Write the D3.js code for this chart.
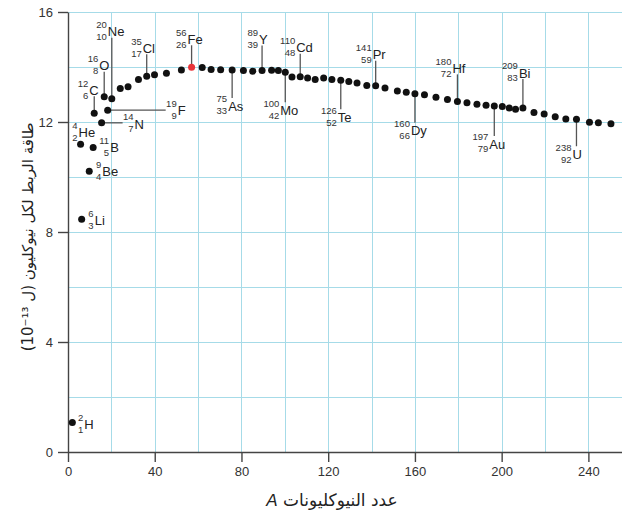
<!DOCTYPE html>
<html><head><meta charset="utf-8">
<script src="https://cdn.jsdelivr.net/npm/d3@7/dist/d3.min.js"></script>
<style>body{margin:0;background:#fff}</style>
</head><body>
<svg id="chart" width="622" height="516"></svg>
<script>
// ---- data ----
const massNumbers = [2.0,5.8,6.3,9.8,11.6,12.1,15.5,16.7,18.3,20.2,24.1,27.7,32.5,36.3,39.9,45.4,52.3,57.0,61.9,66.0,70.4,75.7,80.9,85.2,89.5,93.9,97.0,100.2,103.3,107.1,110.5,114.0,117.9,121.7,125.8,129.5,133.3,137.8,141.9,146.2,151.9,156.0,160.0,164.4,169.7,175.0,179.6,184.0,188.6,192.8,196.6,200.3,203.5,206.4,209.8,214.9,219.6,224.7,229.6,234.5,240.5,244.6,250.4];
const bindingEnergies = [1.07,11.19,8.46,10.21,11.07,12.32,11.97,12.92,12.43,12.85,13.22,13.28,13.55,13.66,13.72,13.77,13.89,13.99,13.98,13.91,13.90,13.89,13.87,13.85,13.87,13.88,13.87,13.81,13.64,13.65,13.60,13.55,13.60,13.55,13.52,13.47,13.42,13.33,13.32,13.24,13.13,13.08,13.03,12.99,12.90,12.82,12.75,12.70,12.65,12.61,12.58,12.56,12.51,12.46,12.51,12.35,12.29,12.19,12.11,12.10,11.99,11.97,11.94];
const highlightPoint = 17;

const nuclideSymbols = ["H","He","Li","Be","B","C","N","O","F","Ne","Cl","Fe","As","Y","Mo","Cd","Te","Pr","Dy","Hf","Au","Bi","U"];
const nuclideMass    = [2,4,6,9,11,12,14,16,19,20,35,56,75,89,100,110,126,141,160,180,197,209,238];
const nuclideZ       = [1,2,3,4,5,6,7,8,9,10,17,26,33,39,42,48,52,59,66,72,79,83,92];
const nuclidePoint   = [0,1,2,3,4,5,6,7,8,9,13,17,21,24,27,29,34,38,42,46,50,54,59];

const xTicks = [0,40,80,120,160,200,240];
const yTicks = [0,4,8,12,16];
const xGrid = [20,40,60,80,100,120,140,160,180,200,220,240];
const yGrid = [2,4,6,8,10,12,14,16];
const xTitle = "عدد النيوكليونات ";
const xTitleVar = "A";
const yTitle = "طاقة الربط لكل نيوكليون (ل \u202A10⁻¹³\u202C)";

// ---- label layout (pixel offsets of symbol from its point) ----
const labelLayout = [
  [12,2,"none"],[-2,-12,"none"],[13,1,"none"],[13,0,"none"],[17,0,"none"],
  [-5,-23,"up"],[33,1,"right"],[-5,-31,"up"],[70,0,"right"],[-4,-67,"up"],
  [-4,-28,"up"],[-4,-28,"up"],[-4,36,"down"],[-3,-31,"up"],[-5,38,"down"],
  [-4,-29,"up"],[-3,37,"down"],[-3,-31,"up"],[-4,37,"down"],[-5,-33,"up"],
  [-5,38,"down"],[-4,-35,"up"],[-4,35,"down"]
];

const svg = d3.select("#chart");
const x = d3.scaleLinear().domain([0,255.5]).range([68,622]);
const y = d3.scaleLinear().domain([0,16]).range([452,12]);
const gridColor = "#a6dbe8";
const axisColor = "#444";
const font = "'Liberation Sans', Arial, sans-serif";
const snap = v => Math.round(v) + 0.5;

// grid
svg.append("g").selectAll("line").data(xGrid).join("line")
  .attr("x1",d=>snap(x(d))).attr("x2",d=>snap(x(d))).attr("y1",y(0)).attr("y2",y(16))
  .attr("stroke",gridColor).attr("stroke-width",1);
svg.append("g").selectAll("line").data(yGrid).join("line")
  .attr("x1",x(0)).attr("x2",622).attr("y1",d=>snap(y(d))).attr("y2",d=>snap(y(d)))
  .attr("stroke",gridColor).attr("stroke-width",1);

// axes
const xAxis = svg.append("g").attr("transform",`translate(0,${y(0)})`)
  .call(d3.axisBottom(x).tickValues(xTicks).tickSize(10).tickSizeOuter(0).tickPadding(5));
const yAxis = svg.append("g").attr("transform",`translate(${x(0)},0)`)
  .call(d3.axisLeft(y).tickValues(yTicks).tickSize(10).tickSizeOuter(0).tickPadding(5));
[xAxis,yAxis].forEach(g=>{
  g.selectAll("path,line").attr("stroke",axisColor).attr("stroke-width",1.4);
  g.selectAll("text").attr("fill","#333").style("font-family",font).style("font-size","13px");
});

// leaders
const lab = svg.append("g");
nuclideSymbols.forEach((s,i)=>{
  const p = nuclidePoint[i];
  const px = x(massNumbers[p]), py = y(bindingEnergies[p]);
  const [dx,dy,kind] = labelLayout[i];
  const sx = px+dx, sy = py+dy;
  if(kind!=="none"){
    let x2=px,y2=py;
    if(kind==="up") y2 = sy+6;
    if(kind==="down") y2 = sy-8;
    if(kind==="right") x2 = sx-12;
    lab.append("line").attr("x1",px).attr("y1",py).attr("x2",x2).attr("y2",y2)
      .attr("stroke","#555").attr("stroke-width",1.3);
  }
});

// points
svg.append("g").selectAll("circle").data(massNumbers).join("circle")
  .attr("cx",d=>x(d)).attr("cy",(d,i)=>y(bindingEnergies[i]))
  .attr("r",3.5)
  .attr("fill",(d,i)=>i===highlightPoint?"#e8353a":"#111");

// nuclide labels
nuclideSymbols.forEach((s,i)=>{
  const p = nuclidePoint[i];
  const px = x(massNumbers[p]), py = y(bindingEnergies[p]);
  const [dx,dy] = labelLayout[i];
  const sx = px+dx, sy = py+dy;
  lab.append("text").attr("x",sx).attr("y",sy).attr("dy","0.36em")
    .style("font-family",font).style("font-size","13px").attr("fill","#222").text(s);
  lab.append("text").attr("x",sx-1).attr("y",sy-7).attr("dy","0.36em").attr("text-anchor","end")
    .style("font-family",font).style("font-size","9.5px").attr("fill","#333").text(nuclideMass[i]);
  lab.append("text").attr("x",sx-1).attr("y",sy+5).attr("dy","0.36em").attr("text-anchor","end")
    .style("font-family",font).style("font-size","9.5px").attr("fill","#333").text(nuclideZ[i]);
});

// axis titles
const xt = svg.append("text").attr("x",332).attr("y",506).attr("text-anchor","middle")
  .attr("direction","rtl")
  .style("font-family","'DejaVu Sans', sans-serif").style("font-size","17px").attr("fill","#222");
xt.append("tspan").text(xTitle);
xt.append("tspan").style("font-style","italic").style("font-family",font).text(xTitleVar);

svg.append("text").attr("transform","translate(28,237) rotate(-90)")
  .attr("text-anchor","middle").attr("direction","rtl").attr("dy","0.35em")
  .style("font-family","'DejaVu Sans', sans-serif").style("font-size","15px").attr("fill","#222")
  .text(yTitle);
</script>
</body></html>
